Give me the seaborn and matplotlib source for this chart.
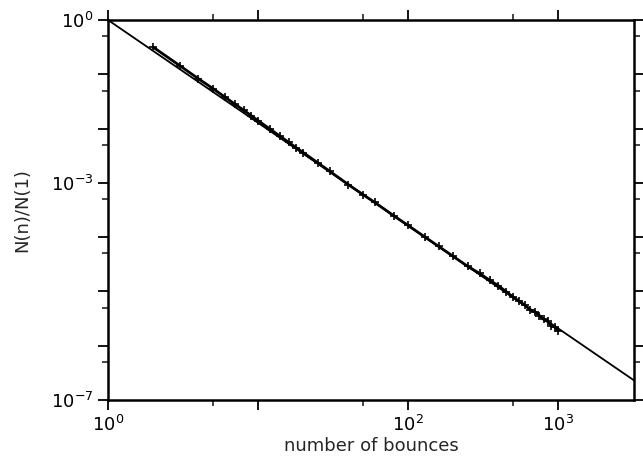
import numpy as np
import pandas as pd
import matplotlib
matplotlib.use("Agg")
import matplotlib.pyplot as plt
import matplotlib.ticker as mticker
import seaborn as sns

# data
bounces = [2, 3, 4, 5, 6, 7, 8, 9, 10, 12, 14, 16, 18, 20, 25, 30, 40, 50, 60, 80,
           100, 130, 160, 200, 250, 300, 350, 400, 450, 500, 550, 600, 650, 700,
           750, 800, 850, 900, 950, 1000]
ratio = [0.316, 0.145, 0.083, 0.0546, 0.0382, 0.0282, 0.0219, 0.0173, 0.0140,
         0.00982, 0.00724, 0.00557, 0.00441, 0.00361, 0.00234, 0.00164,
         9.27e-4, 6.08e-4, 4.36e-4, 2.49e-4, 1.64e-4, 9.95e-5, 6.73e-5, 4.41e-5,
         2.89e-5, 2.14e-5, 1.6e-5, 1.27e-5, 9.9e-6, 7.9e-6, 6.6e-6, 5.6e-6,
         4.6e-6, 4.2e-6, 3.6e-6, 3.05e-6, 2.8e-6, 2.35e-6, 2.2e-6, 1.87e-6]
fit_x = [1.0, 3200.0]
fit_y = [1.0, 2.3e-7]

x_tick_vals = [1, 10, 100, 1000]
x_tick_labels = [r"$10^0$", "", r"$10^2$", r"$10^3$"]
y_tick_vals = [1e0, 1e-1, 1e-2, 1e-3, 1e-4, 1e-5, 1e-6, 1e-7]
y_tick_labels = [r"$10^0$", "", "", r"$10^{-3}$", "", "", "", r"$10^{-7}$"]

sns.set_style("ticks")
plt.rcParams["font.family"] = ["DejaVu Sans"]
plt.rcParams["mathtext.fontset"] = "dejavusans"

fig = plt.figure(figsize=(6.43, 4.61), dpi=100)
ax = fig.add_axes([108/643, 1-400/461, (634-108)/643, (400-20)/461])

df = pd.DataFrame({"n": bounces, "r": ratio})
fit = pd.DataFrame({"n": fit_x, "r": fit_y})

sns.lineplot(data=fit, x="n", y="r", ax=ax, color="black", linewidth=1.3)
sns.lineplot(data=df, x="n", y="r", ax=ax, color="black", linewidth=2.0,
             marker="+", markersize=6, markeredgewidth=1.2,
             markeredgecolor="black", markerfacecolor="black")

ax.set_xscale("log")
ax.set_yscale("log")
ax.set_xlim(1, 3200)
ax.set_ylim(1e-7, 1)

ax.xaxis.set_major_locator(mticker.FixedLocator(x_tick_vals))
ax.xaxis.set_major_formatter(mticker.FixedFormatter(x_tick_labels))
ax.xaxis.set_minor_locator(mticker.FixedLocator([5, 50, 500]))
ax.xaxis.set_minor_formatter(mticker.NullFormatter())
ax.yaxis.set_major_locator(mticker.FixedLocator(y_tick_vals))
ax.yaxis.set_major_formatter(mticker.FixedFormatter(y_tick_labels))
ax.yaxis.set_minor_locator(mticker.FixedLocator([5 * v for v in y_tick_vals[1:]]))
ax.yaxis.set_minor_formatter(mticker.NullFormatter())

ax.tick_params(which="major", direction="out", length=7, width=1.3,
               top=True, right=True, labelsize=13, colors="black")
ax.tick_params(which="minor", direction="out", length=4, width=1.2,
               top=True, right=True)
for s in ax.spines.values():
    s.set_visible(True)
    s.set_linewidth(1.8)
    s.set_color("black")

ax.set_xlabel("number of bounces", fontsize=13, labelpad=2)
ax.set_ylabel("N(n)/N(1)", fontsize=13, labelpad=14)

fig.savefig("out.png", dpi=100)
